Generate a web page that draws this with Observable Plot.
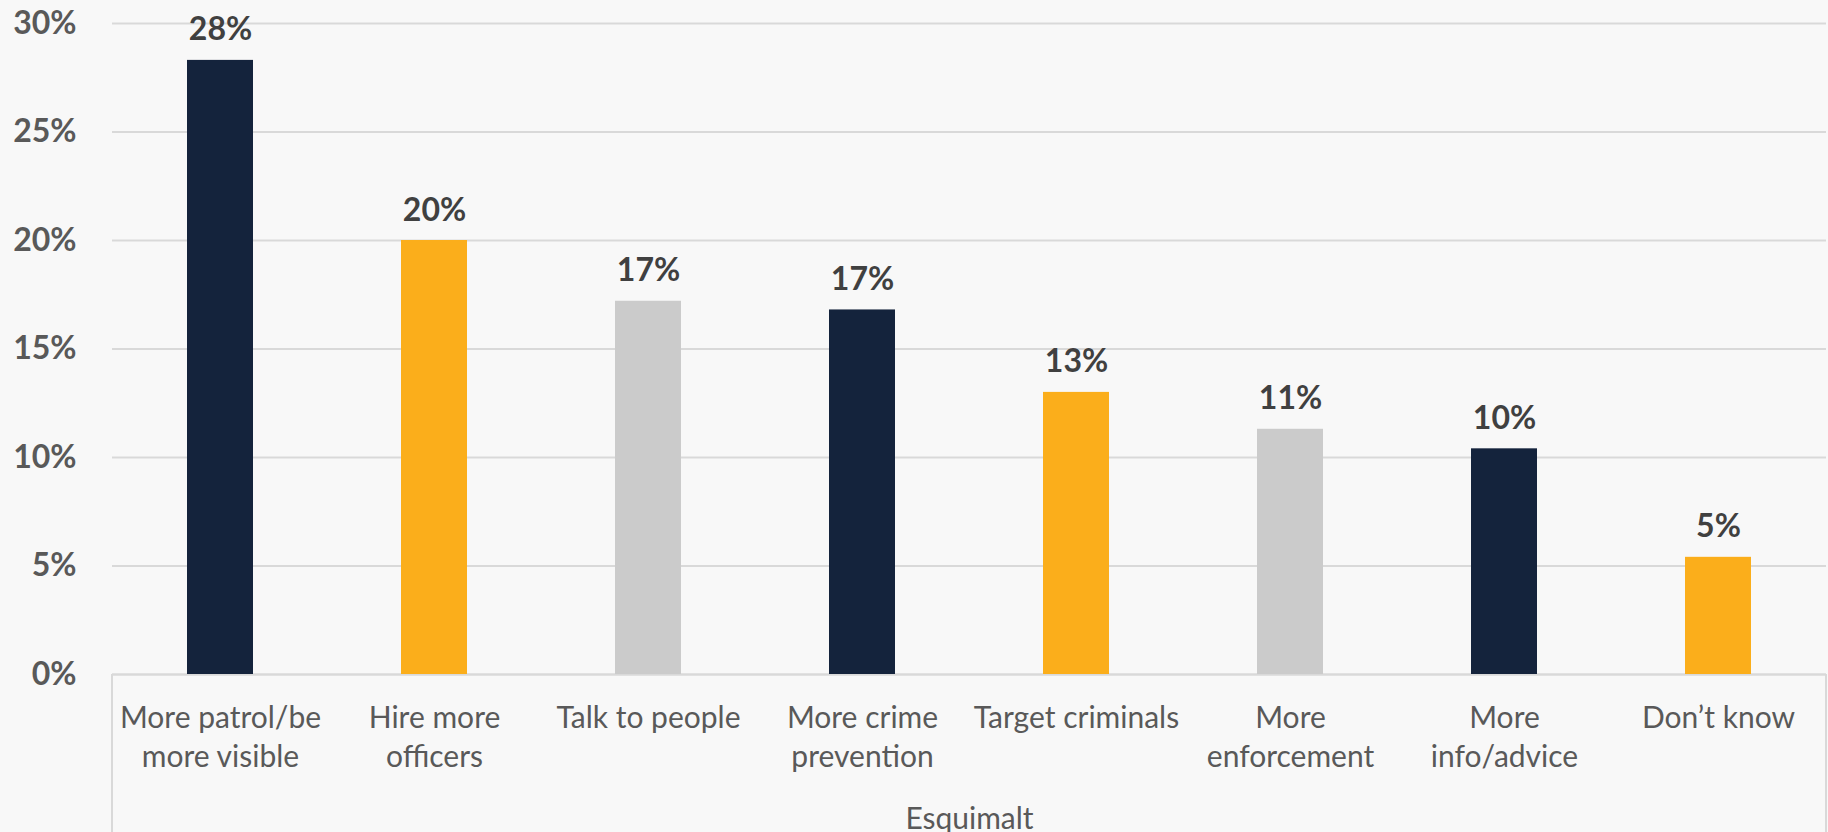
<!DOCTYPE html>
<html>
<head>
<meta charset="utf-8">
<script src="https://cdn.jsdelivr.net/npm/d3@7"></script>
<script src="https://cdn.jsdelivr.net/npm/@observablehq/plot@0.6"></script>
<style>
  html, body { margin: 0; padding: 0; background: #f8f8f8; }
  #chart { width: 1828px; height: 832px; }
</style>
</head>
<body>
<div id="chart"></div>
<script>
// ---- data ----
const categories = [
  "More patrol/be\nmore visible",
  "Hire more\nofficers",
  "Talk to people",
  "More crime\nprevention",
  "Target criminals",
  "More\nenforcement",
  "More\ninfo/advice",
  "Don’t know"
];
const values = [28.3, 20.0, 17.2, 16.8, 13.0, 11.3, 10.4, 5.4];
const yTicks = [0, 5, 10, 15, 20, 25, 30];
const groupLabel = "Esquimalt";

// ---- styles ----
const palette = ["#14233c", "#fbae1b", "#cbcbcb", "#14233c", "#fbae1b", "#cbcbcb", "#14233c", "#fbae1b"];
const font = "Lato, 'Open Sans', sans-serif";

const rows = categories.map((c, i) => ({cat: c, value: values[i]}));

// decorative group bracket lines (left/right of frame extending below the axis)
function groupBracket(index, scales, values, dims) {
  const ns = "http://www.w3.org/2000/svg";
  const g = document.createElementNS(ns, "g");
  const x0 = dims.marginLeft, x1 = dims.width - dims.marginRight;
  const yb = dims.height - dims.marginBottom;
  for (const x of [x0, x1]) {
    const l = document.createElementNS(ns, "line");
    l.setAttribute("x1", x); l.setAttribute("x2", x);
    l.setAttribute("y1", yb); l.setAttribute("y2", dims.height);
    l.setAttribute("stroke", "#d9d9d9"); l.setAttribute("stroke-width", 2);
    g.appendChild(l);
  }
  return g;
}

const chart = Plot.plot({
  width: 1828,
  height: 832,
  marginLeft: 112,
  marginRight: 2,
  marginTop: 23,
  marginBottom: 158,
  style: {background: "#f8f8f8", fontFamily: font, overflow: "visible"},
  x: {domain: categories, paddingInner: 0.69, paddingOuter: 0.345, label: null},
  y: {domain: [0, 30], label: null},
  color: {domain: categories, range: palette},
  marks: [
    Plot.gridY(yTicks, {stroke: "#d9d9d9", strokeOpacity: 1, strokeWidth: 2}),
    Plot.ruleY([0], {stroke: "#d9d9d9", strokeWidth: 2}),
    Plot.barY(rows, {x: "cat", y: "value", fill: "cat"}),
    Plot.text(rows, {
      x: "cat", y: "value", text: d => Math.round(d.value) + "%",
      lineAnchor: "bottom", dy: -20, fontSize: 32, fontWeight: "bold", fill: "#404040"
    }),
    Plot.axisY(yTicks, {
      tickSize: 0, tickPadding: 36, tickFormat: d => d + "%",
      fontSize: 32, fontWeight: "bold", fill: "#595959", label: null
    }),
    Plot.axisX({
      tickSize: 0, tickPadding: 25, fontSize: 30, lineHeight: 1.32,
      fill: "#595959", label: null
    }),
    Plot.text([groupLabel], {
      frameAnchor: "bottom", lineAnchor: "top", dy: 133,
      fontSize: 30, fill: "#595959"
    }),
    groupBracket
  ]
});
document.getElementById("chart").appendChild(chart);
</script>
</body>
</html>
